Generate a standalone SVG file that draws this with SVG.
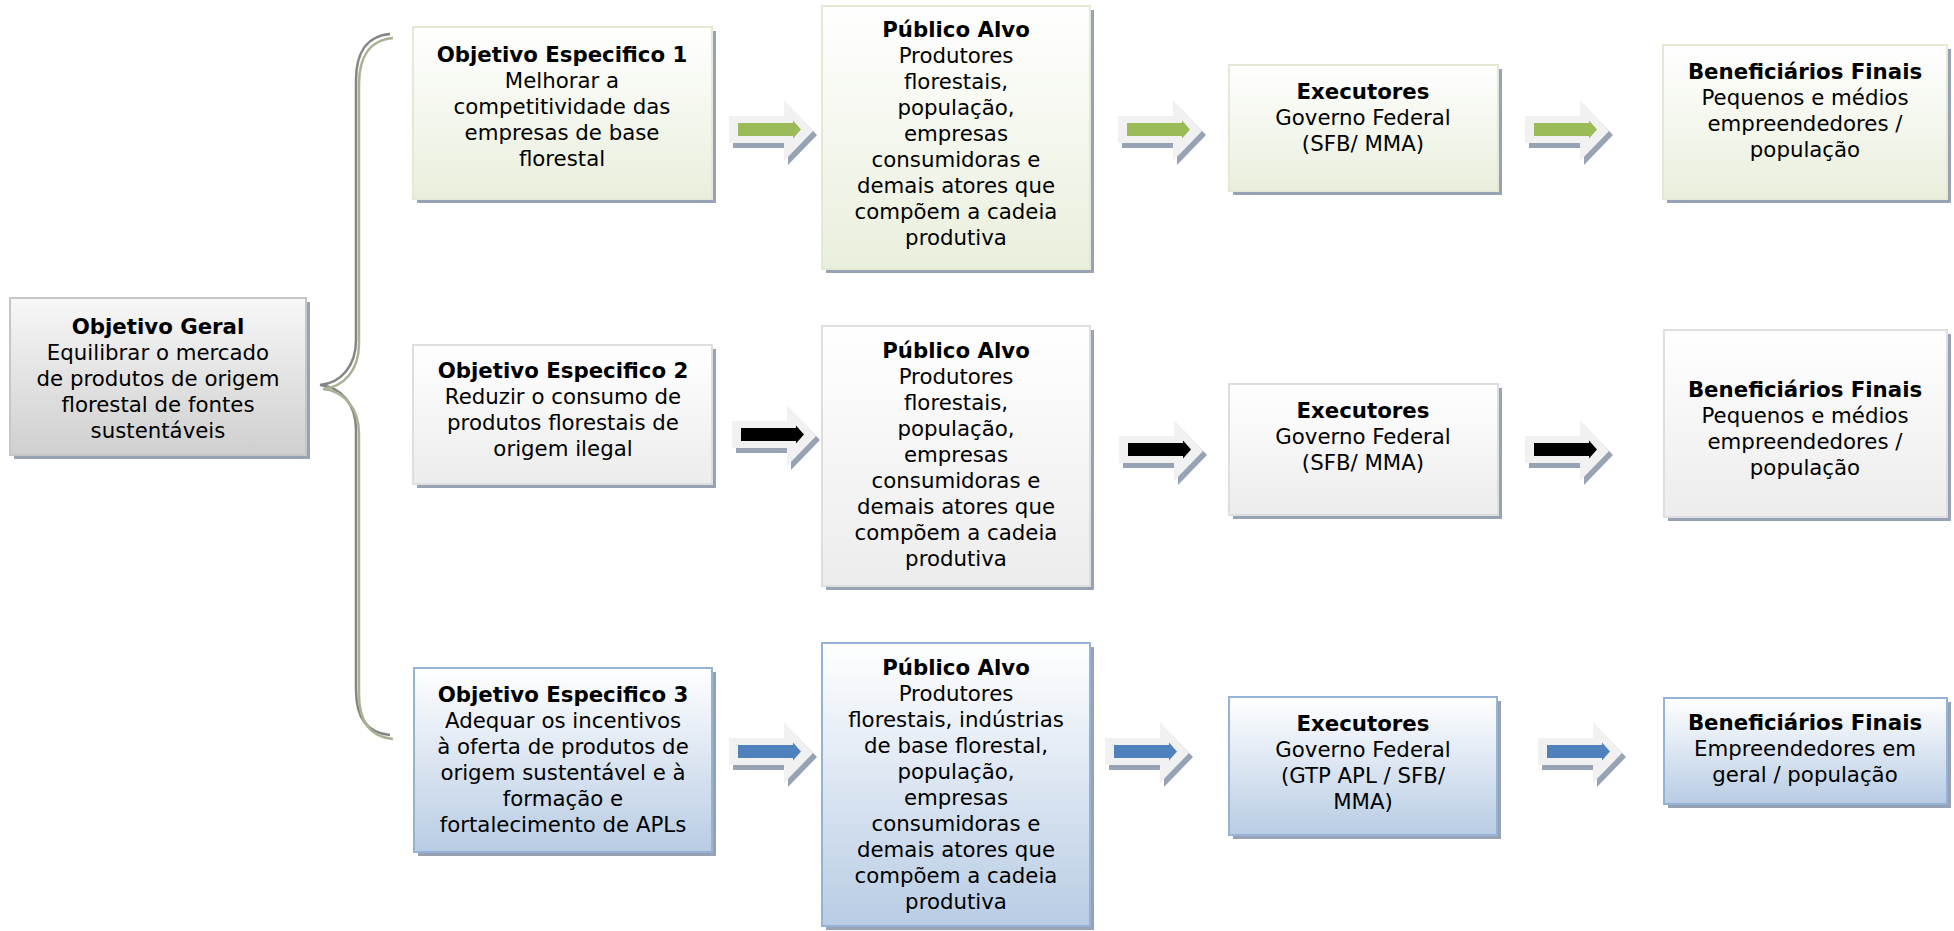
<svg xmlns="http://www.w3.org/2000/svg" xmlns:xlink="http://www.w3.org/1999/xlink" width="1954" height="931" viewBox="0 0 1954 931">
  <style>
    text { font-family: "DejaVu Sans", Verdana, sans-serif; font-size: 21.3px; fill: #000; text-anchor: middle; }
    .h { font-weight: bold; }
    .shadow { fill: #97a3b5; }
    .box-green { fill: url(#gGreen); stroke: #e3e9d2; stroke-width: 2; }
    .box-gray { fill: url(#gGray); stroke: #dedede; stroke-width: 2; }
    .box-main { fill: url(#gMain); stroke: #c6c6c6; stroke-width: 2; }
    .box-blue { fill: url(#gBlue); stroke: #95b3d7; stroke-width: 2; }
    .brace-a { fill: none; stroke: #858585; stroke-width: 2.5; }
    .brace-b { fill: none; stroke: #a8b393; stroke-width: 2.5; }
    .ar-green { fill: #9bbb59; }
    .ar-black { fill: #000000; }
    .ar-blue { fill: #4f81bd; }
  </style>
  <defs>
    <linearGradient id="gGreen" x1="0" y1="0" x2="0" y2="1">
      <stop offset="0" stop-color="#ffffff"/>
      <stop offset="1" stop-color="#e9efdc"/>
    </linearGradient>
    <linearGradient id="gGray" x1="0" y1="0" x2="0" y2="1">
      <stop offset="0" stop-color="#ffffff"/>
      <stop offset="1" stop-color="#ececec"/>
    </linearGradient>
    <linearGradient id="gMain" x1="0" y1="0" x2="0" y2="1">
      <stop offset="0" stop-color="#f7f7f7"/>
      <stop offset="1" stop-color="#cfcfcf"/>
    </linearGradient>
    <linearGradient id="gBlue" x1="0" y1="0" x2="0" y2="1">
      <stop offset="0" stop-color="#ffffff"/>
      <stop offset="1" stop-color="#b8cce4"/>
    </linearGradient>
    <!-- 3D block arrow: shadow + light body; the coloured core is added per use -->
    <g id="arrowBase">
      <polygon points="4,21 59,21 59,5 88,35 59,65 59,48 4,48" fill="#97a3b5"/>
      <polygon points="0,16 55,16 55,0 84,31 55,61 55,43 0,43" fill="#f1f1f1"/>
    </g>
    <polygon id="arrowCore" points="9,23 64,23 64,20.5 72,29.5 64,38.5 64,36 9,36"/>
  </defs>

  <!-- connectors: brace and flow arrows -->
  <g id="connectors">
    <path class="brace-a" d="M390,34 C366,36 356,54 356,80 L356,340 C356,366 341,383 320,385 C341,387 356,404 356,430 L356,690 C356,716 366,733 390,735"/>
    <path class="brace-b" transform="translate(3,4)" d="M390,34 C366,36 356,54 356,80 L356,340 C356,366 341,383 320,385 C341,387 356,404 356,430 L356,690 C356,716 366,733 390,735"/>

    <g transform="translate(729,100)"><use xlink:href="#arrowBase"/><use xlink:href="#arrowCore" class="ar-green"/></g>
    <g transform="translate(1118,100)"><use xlink:href="#arrowBase"/><use xlink:href="#arrowCore" class="ar-green"/></g>
    <g transform="translate(1525,100)"><use xlink:href="#arrowBase"/><use xlink:href="#arrowCore" class="ar-green"/></g>

    <g transform="translate(732,405)"><use xlink:href="#arrowBase"/><use xlink:href="#arrowCore" class="ar-black"/></g>
    <g transform="translate(1119,420)"><use xlink:href="#arrowBase"/><use xlink:href="#arrowCore" class="ar-black"/></g>
    <g transform="translate(1525,420)"><use xlink:href="#arrowBase"/><use xlink:href="#arrowCore" class="ar-black"/></g>

    <g transform="translate(729,722)"><use xlink:href="#arrowBase"/><use xlink:href="#arrowCore" class="ar-blue"/></g>
    <g transform="translate(1105,722)"><use xlink:href="#arrowBase"/><use xlink:href="#arrowCore" class="ar-blue"/></g>
    <g transform="translate(1538,722)"><use xlink:href="#arrowBase"/><use xlink:href="#arrowCore" class="ar-blue"/></g>
  </g>

  <!-- general objective -->
  <g id="objetivo-geral">
    <rect class="shadow" x="14" y="302" width="296" height="157"/>
    <rect class="box-main" x="10" y="298" width="296" height="157"/>
    <text x="158" y="334"><tspan class="h">Objetivo Geral</tspan><tspan x="158" dy="26">Equilibrar o mercado</tspan><tspan x="158" dy="26">de produtos de origem</tspan><tspan x="158" dy="26">florestal de fontes</tspan><tspan x="158" dy="26">sustentáveis</tspan></text>
  </g>

  <!-- row 1 -->
  <g id="objetivo-1">
    <rect class="shadow" x="417" y="31" width="299" height="172"/>
    <rect class="box-green" x="413" y="27" width="299" height="172"/>
    <text x="562" y="62"><tspan class="h">Objetivo Especifico 1</tspan><tspan x="562" dy="26">Melhorar a</tspan><tspan x="562" dy="26">competitividade das</tspan><tspan x="562" dy="26">empresas de base</tspan><tspan x="562" dy="26">florestal</tspan></text>
  </g>
  <g id="publico-1">
    <rect class="shadow" x="826" y="10" width="268" height="263"/>
    <rect class="box-green" x="822" y="6" width="268" height="263"/>
    <text x="956" y="37"><tspan class="h">Público Alvo</tspan><tspan x="956" dy="26">Produtores</tspan><tspan x="956" dy="26">florestais,</tspan><tspan x="956" dy="26">população,</tspan><tspan x="956" dy="26">empresas</tspan><tspan x="956" dy="26">consumidoras e</tspan><tspan x="956" dy="26">demais atores que</tspan><tspan x="956" dy="26">compõem a cadeia</tspan><tspan x="956" dy="26">produtiva</tspan></text>
  </g>
  <g id="executores-1">
    <rect class="shadow" x="1233" y="69" width="269" height="126"/>
    <rect class="box-green" x="1229" y="65" width="269" height="126"/>
    <text x="1363" y="99"><tspan class="h">Executores</tspan><tspan x="1363" dy="26">Governo Federal</tspan><tspan x="1363" dy="26">(SFB/ MMA)</tspan></text>
  </g>
  <g id="beneficiarios-1">
    <rect class="shadow" x="1667" y="49" width="284" height="154"/>
    <rect class="box-green" x="1663" y="45" width="284" height="154"/>
    <text x="1805" y="79"><tspan class="h">Beneficiários Finais</tspan><tspan x="1805" dy="26">Pequenos e médios</tspan><tspan x="1805" dy="26">empreendedores /</tspan><tspan x="1805" dy="26">população</tspan></text>
  </g>

  <!-- row 2 -->
  <g id="objetivo-2">
    <rect class="shadow" x="417" y="349" width="299" height="139"/>
    <rect class="box-gray" x="413" y="345" width="299" height="139"/>
    <text x="563" y="378"><tspan class="h">Objetivo Especifico 2</tspan><tspan x="563" dy="26">Reduzir o consumo de</tspan><tspan x="563" dy="26">produtos florestais de</tspan><tspan x="563" dy="26">origem ilegal</tspan></text>
  </g>
  <g id="publico-2">
    <rect class="shadow" x="826" y="330" width="268" height="260"/>
    <rect class="box-gray" x="822" y="326" width="268" height="260"/>
    <text x="956" y="358"><tspan class="h">Público Alvo</tspan><tspan x="956" dy="26">Produtores</tspan><tspan x="956" dy="26">florestais,</tspan><tspan x="956" dy="26">população,</tspan><tspan x="956" dy="26">empresas</tspan><tspan x="956" dy="26">consumidoras e</tspan><tspan x="956" dy="26">demais atores que</tspan><tspan x="956" dy="26">compõem a cadeia</tspan><tspan x="956" dy="26">produtiva</tspan></text>
  </g>
  <g id="executores-2">
    <rect class="shadow" x="1233" y="388" width="269" height="131"/>
    <rect class="box-gray" x="1229" y="384" width="269" height="131"/>
    <text x="1363" y="418"><tspan class="h">Executores</tspan><tspan x="1363" dy="26">Governo Federal</tspan><tspan x="1363" dy="26">(SFB/ MMA)</tspan></text>
  </g>
  <g id="beneficiarios-2">
    <rect class="shadow" x="1668" y="334" width="283" height="187"/>
    <rect class="box-gray" x="1664" y="330" width="283" height="187"/>
    <text x="1805" y="397"><tspan class="h">Beneficiários Finais</tspan><tspan x="1805" dy="26">Pequenos e médios</tspan><tspan x="1805" dy="26">empreendedores /</tspan><tspan x="1805" dy="26">população</tspan></text>
  </g>

  <!-- row 3 -->
  <g id="objetivo-3">
    <rect class="shadow" x="418" y="672" width="298" height="184"/>
    <rect class="box-blue" x="414" y="668" width="298" height="184"/>
    <text x="563" y="702"><tspan class="h">Objetivo Especifico 3</tspan><tspan x="563" dy="26">Adequar os incentivos</tspan><tspan x="563" dy="26">à oferta de produtos de</tspan><tspan x="563" dy="26">origem sustentável e à</tspan><tspan x="563" dy="26">formação e</tspan><tspan x="563" dy="26">fortalecimento de APLs</tspan></text>
  </g>
  <g id="publico-3">
    <rect class="shadow" x="826" y="647" width="268" height="283"/>
    <rect class="box-blue" x="822" y="643" width="268" height="283"/>
    <text x="956" y="675"><tspan class="h">Público Alvo</tspan><tspan x="956" dy="26">Produtores</tspan><tspan x="956" dy="26">florestais, indústrias</tspan><tspan x="956" dy="26">de base florestal,</tspan><tspan x="956" dy="26">população,</tspan><tspan x="956" dy="26">empresas</tspan><tspan x="956" dy="26">consumidoras e</tspan><tspan x="956" dy="26">demais atores que</tspan><tspan x="956" dy="26">compõem a cadeia</tspan><tspan x="956" dy="26">produtiva</tspan></text>
  </g>
  <g id="executores-3">
    <rect class="shadow" x="1233" y="701" width="268" height="138"/>
    <rect class="box-blue" x="1229" y="697" width="268" height="138"/>
    <text x="1363" y="731"><tspan class="h">Executores</tspan><tspan x="1363" dy="26">Governo Federal</tspan><tspan x="1363" dy="26">(GTP APL / SFB/</tspan><tspan x="1363" dy="26">MMA)</tspan></text>
  </g>
  <g id="beneficiarios-3">
    <rect class="shadow" x="1668" y="702" width="283" height="106"/>
    <rect class="box-blue" x="1664" y="698" width="283" height="106"/>
    <text x="1805" y="730"><tspan class="h">Beneficiários Finais</tspan><tspan x="1805" dy="26">Empreendedores em</tspan><tspan x="1805" dy="26">geral / população</tspan></text>
  </g>
</svg>
